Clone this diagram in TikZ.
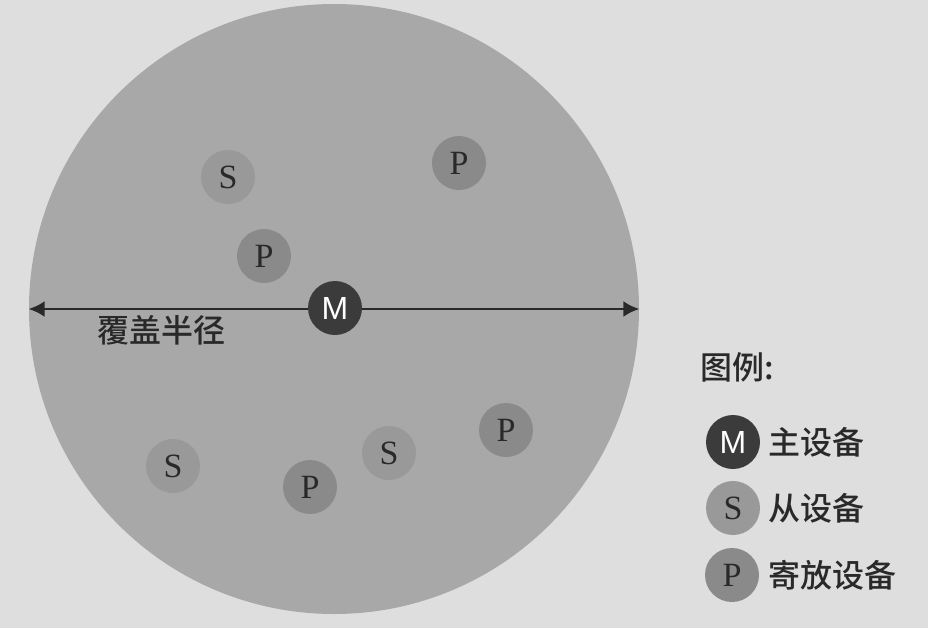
\documentclass[tikz,border=0pt]{standalone}
\usepackage{fontspec}
\setmainfont{Liberation Serif}
\setsansfont{Liberation Sans}
\newfontfamily\cjk{Noto Sans CJK SC Medium}
\usetikzlibrary{arrows.meta}

\definecolor{paper}{gray}{0.87}
\definecolor{cover}{gray}{0.66}
\definecolor{sgray}{gray}{0.60}
\definecolor{pgray}{gray}{0.54}
\definecolor{mgray}{gray}{0.23}
\definecolor{ink}{gray}{0.16}

\begin{document}
\begin{tikzpicture}[x=0.5pt, y=-0.5pt,
    dev/.style={circle, minimum size=27pt, inner sep=0pt, text=ink,
        font=\fontsize{17}{17}\selectfont},
    master/.style={dev, fill=mgray, text=white, font=\sffamily\fontsize{16}{16}\selectfont},
    slave/.style={dev, fill=sgray},
    parked/.style={dev, fill=pgray},
    lbl/.style={anchor=west, text=ink, inner sep=0pt, font=\cjk\fontsize{16}{16}\selectfont}]
        \fill[paper] (0,0) rectangle (928,628);

        % coverage area
        \node[circle, fill=cover, minimum size=305pt, inner sep=0pt] (area) at (334,309) {};
        \draw[ink, line width=1.4pt, {Latex[length=8pt,width=8pt]}-{Latex[length=8pt,width=8pt]}]
            (area.west) -- (area.east);
        \node[lbl] (radius) at (97,330) {覆盖半径};

        % devices
        \node[master] (m)  at (335,308) {M};
        \node[slave]  (s1) at (228,177) {S};
        \node[slave]  (s2) at (173,466) {S};
        \node[slave]  (s3) at (389,453) {S};
        \node[parked] (p1) at (459,163) {P};
        \node[parked] (p2) at (264,256) {P};
        \node[parked] (p3) at (310,487) {P};
        \node[parked] (p4) at (506,430) {P};

        % legend
        \node[lbl] (legend) at (700,367) {图例:};
        \node[master] (lm) at (733,442) {M};
        \node[slave]  (ls) at (733,508) {S};
        \node[parked] (lp) at (732,575) {P};
        \node[lbl] at (768,442) {主设备};
        \node[lbl] at (768,508) {从设备};
        \node[lbl] at (768,575) {寄放设备};
\end{tikzpicture}
\end{document}
